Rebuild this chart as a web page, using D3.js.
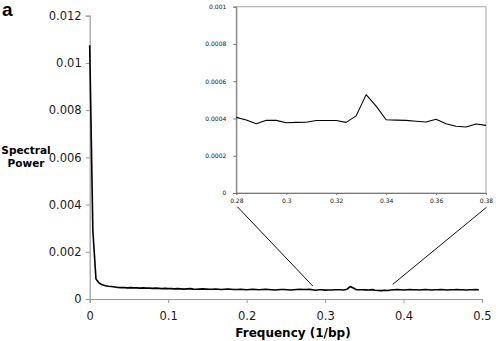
<!DOCTYPE html>
<html>
<head>
<meta charset="utf-8">
<script src="https://cdn.jsdelivr.net/npm/d3@7"></script>
<style>
html,body{margin:0;padding:0;background:#fff;}
svg{display:block;}
</style>
</head>
<body>
<svg id="chart" width="496" height="341"></svg>
<script>
// ---- data ----
// spectral power sampled every 1/250 bp^-1, from 0 to 0.496
const power = [
  0.01075, 0.0029, 0.00085, 0.00068, 0.0006, 0.00056, 0.00054, 0.00053, 0.00051, 0.00049,
  0.00048, 0.00048, 0.00047, 0.00048, 0.00047, 0.00047, 0.00046, 0.00047, 0.00046, 0.00046,
  0.00045, 0.00046, 0.00045, 0.00044, 0.00045, 0.00044,
  0.00044, 0.00043, 0.00044, 0.00043, 0.00042, 0.00043, 0.00044, 0.00042, 0.00041, 0.00042,
  0.00043, 0.00042, 0.00041, 0.00041, 0.00042, 0.00041, 0.0004, 0.00041, 0.00042, 0.00041,
  0.0004, 0.0004, 0.00041, 0.0004, 0.00039, 0.0004, 0.00041, 0.0004, 0.00039, 0.0004,
  0.00041, 0.0004, 0.00039, 0.00038, 0.00039, 0.0004, 0.0004, 0.00039, 0.00038, 0.00039,
  0.0004, 0.00041, 0.0004, 0.0004,
  // 0.28 .. 0.38 (as in the inset)
  0.000406, 0.000392, 0.000372, 0.000390, 0.000390, 0.000377, 0.000379, 0.000380, 0.000389, 0.000389,
  0.000389, 0.000379, 0.000414, 0.000528, 0.000466, 0.000393, 0.000391, 0.000390, 0.000385, 0.000381,
  0.000396, 0.000372, 0.000358, 0.000354, 0.000370, 0.000363,
  0.00038, 0.00039, 0.00040, 0.00039, 0.00038, 0.00039, 0.00040, 0.00039, 0.00039, 0.00038,
  0.00039, 0.00040, 0.00039, 0.00038, 0.00039, 0.00039, 0.00040, 0.00039, 0.00038, 0.00039,
  0.00039, 0.00040, 0.00039, 0.00039, 0.00038, 0.00039, 0.00039, 0.00040, 0.00039
];
const sampleCount = 250;
const freq = power.map((_, i) => i / sampleCount);

const mainXTicks = [0, 0.1, 0.2, 0.3, 0.4, 0.5];
const mainYTicks = [0, 0.002, 0.004, 0.006, 0.008, 0.01, 0.012];
const insetXTicks = [0.28, 0.3, 0.32, 0.34, 0.36, 0.38];
const insetYTicks = [0, 0.0002, 0.0004, 0.0006, 0.0008, 0.001];
const insetRange = [0.28, 0.38];

const panelLabel = "a";
const xTitle = "Frequency (1/bp)";
const yTitleLines = ["Spectral", "Power"];

// ---- drawing ----
const svg = d3.select("#chart");
const axisColor = "#9a9a9a";
const fmt = d => String(+d.toPrecision(6));

const x = d3.scaleLinear().domain([0, 0.5]).range([89.7, 482]);
const y = d3.scaleLinear().domain([0, 0.012]).range([299, 15.7]);

// main y axis
const gy = svg.append("g").attr("transform", `translate(${x(0)},0)`)
  .call(d3.axisLeft(y).tickValues(mainYTicks).tickSize(4).tickPadding(4).tickFormat(fmt));
// main x axis
const gx = svg.append("g").attr("transform", `translate(0,${y(0)})`)
  .call(d3.axisBottom(x).tickValues(mainXTicks).tickSize(4).tickPadding(9).tickFormat(fmt));
[gx, gy].forEach(g => {
  g.select(".domain").attr("stroke", axisColor).attr("stroke-width", 1.2);
  g.selectAll(".tick line").attr("stroke", axisColor).attr("stroke-width", 1);
  g.selectAll(".tick text").attr("fill", "#1a1a1a")
    .style("font-family", "'DejaVu Sans', Verdana, sans-serif").style("font-size", "11.5px");
});

// main line
const line = d3.line().x((d, i) => x(freq[i])).y(d => y(d));
svg.append("path").datum(power)
  .attr("d", line).attr("fill", "none").attr("stroke", "#000")
  .attr("stroke-width", 1.6).attr("stroke-linejoin", "round");

// titles
svg.append("text").attr("x", 2).attr("y", 15.5).text(panelLabel)
  .style("font-family", "'Liberation Sans', Arial, sans-serif").style("font-weight", "bold")
  .style("font-size", "19px").attr("fill", "#000");
svg.append("text").attr("x", 293).attr("y", 337).attr("text-anchor", "middle").text(xTitle)
  .style("font-family", "'DejaVu Sans', Verdana, sans-serif").style("font-weight", "bold")
  .style("font-size", "12px").attr("fill", "#000");
yTitleLines.forEach((t, i) => {
  svg.append("text").attr("x", 26).attr("y", 154 + i * 13).attr("text-anchor", "middle").text(t)
    .style("font-family", "'DejaVu Sans', Verdana, sans-serif").style("font-weight", "bold")
    .style("font-size", "10.5px").attr("fill", "#000");
});

// ---- inset ----
const ix = d3.scaleLinear().domain(insetRange).range([236.3, 486]);
const iy = d3.scaleLinear().domain([0, 0.001]).range([193, 6.7]);

// connector lines
svg.append("line")
  .attr("x1", ix(0.28) + 1).attr("y1", 206.7)
  .attr("x2", x(0.2843)).attr("y2", y(0.00055))
  .attr("stroke", "#111").attr("stroke-width", 1);
svg.append("line")
  .attr("x1", ix(0.38) + 0.5).attr("y1", 207.3)
  .attr("x2", x(0.3862)).attr("y2", y(0.00062))
  .attr("stroke", "#111").attr("stroke-width", 1);

svg.append("rect").attr("x", ix(0.28)).attr("y", iy(0.001))
  .attr("width", ix(0.38) - ix(0.28)).attr("height", iy(0) - iy(0.001))
  .attr("fill", "#fff").attr("stroke", "#b5b5b5").attr("stroke-width", 1.2);

const giy = svg.append("g").attr("transform", `translate(${ix(0.28)},0)`)
  .call(d3.axisLeft(iy).tickValues(insetYTicks).tickSize(3).tickPadding(7).tickFormat(fmt));
const gix = svg.append("g").attr("transform", `translate(0,${iy(0)})`)
  .call(d3.axisBottom(ix).tickValues(insetXTicks).tickSize(2).tickPadding(4).tickFormat(fmt));
[gix, giy].forEach(g => {
  g.select(".domain").attr("stroke", "#777").attr("stroke-width", 1);
  g.selectAll(".tick line").attr("stroke", "#777");
  g.selectAll(".tick text").attr("fill", "#111")
    .style("font-family", "'DejaVu Sans', Verdana, sans-serif").style("font-size", "6px");
});

const insetIdx = freq.map((f, i) => i).filter(i => freq[i] >= insetRange[0] - 1e-9 && freq[i] <= insetRange[1] + 1e-9);
const iline = d3.line().x(i => ix(freq[i])).y(i => iy(power[i]));
svg.append("path").datum(insetIdx)
  .attr("d", iline).attr("fill", "none").attr("stroke", "#000")
  .attr("stroke-width", 1.1).attr("stroke-linejoin", "round");
</script>
</body>
</html>
